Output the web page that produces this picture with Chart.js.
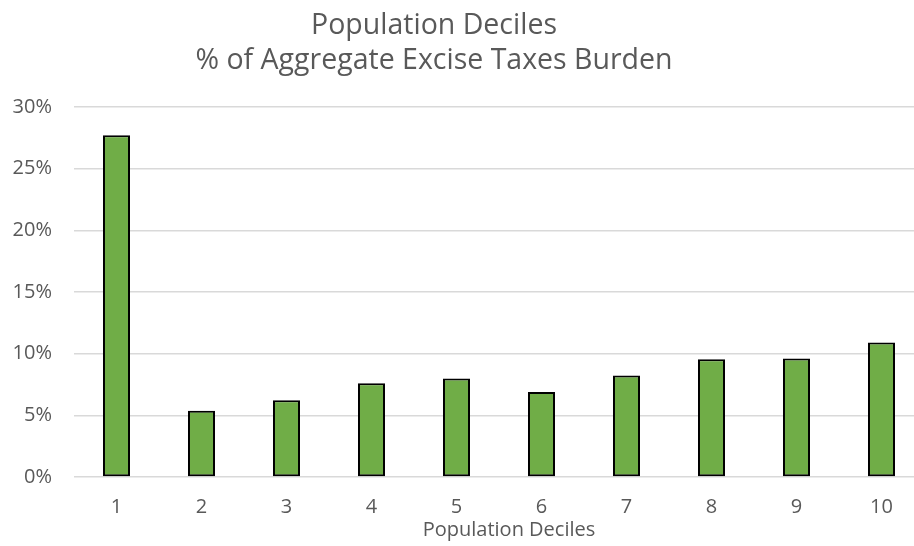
<!DOCTYPE html>
<html>
<head>
<meta charset="utf-8">
<script src="https://cdn.jsdelivr.net/npm/chart.js@4.4.0/dist/chart.umd.min.js"></script>
<style>
html,body{margin:0;padding:0;background:#fff;overflow:hidden;width:914px;height:546px;}
#wrap{position:absolute;left:0;top:0;width:925px;height:546px;}
</style>
</head>
<body>
<div id="wrap"><canvas id="c" width="925" height="546"></canvas></div>
<script>
const categories = ['1','2','3','4','5','6','7','8','9','10'];
const burdenPct = [27.7, 5.38, 6.22, 7.6, 7.98, 6.89, 8.22, 9.54, 9.6, 10.9];
const yTicks = [0, 5, 10, 15, 20, 25, 30];
const titleLines = ['Population Deciles', '% of Aggregate Excise Taxes Burden'];
const xAxisTitle = 'Population Deciles';

const FONT = "'Open Sans', 'Noto Sans', sans-serif";
const GREY = '#595959';

const textPlugin = {
  id: 'texts',
  afterDraw(chart) {
    const ctx = chart.ctx;
    ctx.save();
    ctx.fillStyle = GREY;
    ctx.textAlign = 'center';
    ctx.textBaseline = 'alphabetic';
    ctx.font = '28.5px ' + FONT;
    ctx.fillText(titleLines[0], 434, 34);
    ctx.fillText(titleLines[1], 434, 69);
    ctx.font = '20px ' + FONT;
    ctx.fillText(xAxisTitle, 509, 536);
    ctx.restore();
  }
};

new Chart(document.getElementById('c'), {
  type: 'bar',
  data: {
    labels: categories,
    datasets: [{
      data: burdenPct,
      backgroundColor: '#70AD47',
      borderColor: '#000000',
      borderWidth: 2,
      borderSkipped: false,
      categoryPercentage: 1,
      barPercentage: 0.318
    }]
  },
  options: {
    responsive: false,
    animation: false,
    devicePixelRatio: 1,
    layout: { padding: { top: 107, right: 1, left: 0, bottom: 0 } },
    plugins: { legend: { display: false }, title: { display: false }, tooltip: { enabled: false } },
    scales: {
      x: {
        grid: { display: false },
        border: { display: false },
        ticks: { color: GREY, font: { family: FONT, size: 20 }, padding: 10 },
        afterFit(s) { s.height = 69; }
      },
      y: {
        min: 0, max: 30,
        afterBuildTicks(s) { s.ticks = yTicks.map(v => ({ value: v })); },
        grid: { color: '#d9d9d9', lineWidth: 1.5, drawTicks: false },
        border: { display: false },
        ticks: { color: GREY, font: { family: FONT, size: 20 }, padding: 22, callback: v => v + '%' },
        afterFit(s) { s.width = 74; }
      }
    }
  },
  plugins: [textPlugin]
});
</script>
</body>
</html>
